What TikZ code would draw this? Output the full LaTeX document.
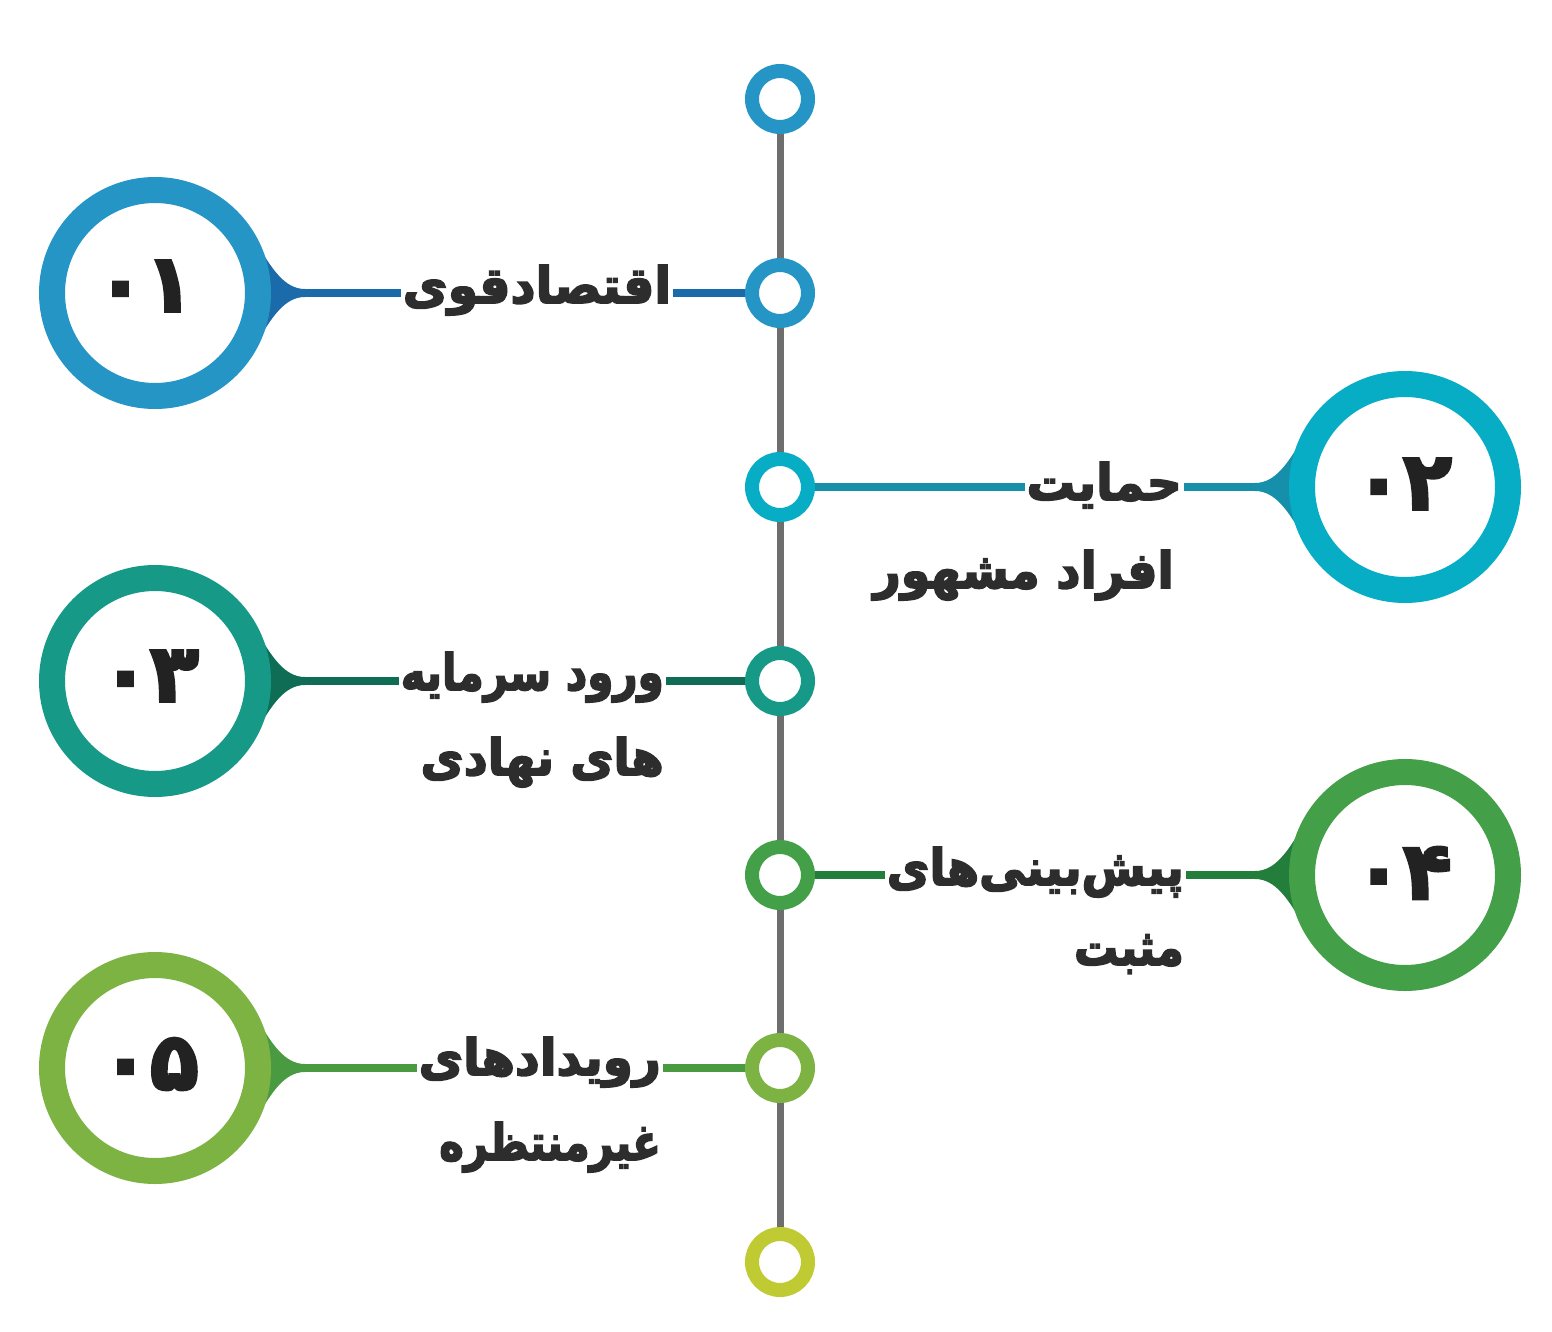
\documentclass[tikz,border=0pt]{standalone}
\usepackage{fontspec}
\usetikzlibrary{backgrounds,calc}
\TeXXeTstate=1
\newfontfamily\fa[Script=Arabic, BoldFeatures={FakeBold=3.5}]{DejaVu Sans}
\definecolor{cA}{HTML}{2595C5}
\definecolor{cAl}{HTML}{1B6AAA}
\definecolor{cB}{HTML}{07ADC4}
\definecolor{cBl}{HTML}{168FAB}
\definecolor{cC}{HTML}{169A87}
\definecolor{cCl}{HTML}{0F6C55}
\definecolor{cD}{HTML}{43A048}
\definecolor{cDl}{HTML}{237D3B}
\definecolor{cE}{HTML}{7DB343}
\definecolor{cEl}{HTML}{4A9A41}
\definecolor{cF}{HTML}{C0CA33}
\definecolor{spine}{HTML}{6E6E6E}
\definecolor{txt}{HTML}{2D2D2D}
\definecolor{dig}{HTML}{222222}
\newcommand\myfunnel[3]{%
  \fill[#3, shift={(#1.center)}, xscale=#2]
    (100,-53) .. controls (117,-23) and (130,-4) .. (150,-4)
    -- (150,4) .. controls (130,4) and (117,23) .. (100,53) -- cycle;}
\tikzset{
  smallring/.style={circle, draw=#1, fill=white, line width=14pt, minimum size=56pt, inner sep=0pt},
  bigring/.style={circle, draw=#1, fill=white, line width=26pt, minimum size=206pt, inner sep=0pt},
  digits/.style={font=\fa\bfseries\fontsize{80}{90}\selectfont, text=dig, inner sep=0pt},
  lbl/.style={font=\fa\bfseries\fontsize{50}{60}\selectfont, text=txt, inner sep=2pt},
  lblbg/.style={lbl, fill=white},
  conn/.style={line width=8pt, draw=#1},
}
\begin{document}
\begin{tikzpicture}[x=1pt,y=-1pt]
\useasboundingbox (0,0) rectangle (1552,1332);
% small rings on spine
\node[smallring=cA] (s0) at (780,99) {};
\node[smallring=cA] (s1) at (780,293) {};
\node[smallring=cB] (s2) at (780,487) {};
\node[smallring=cC] (s3) at (780,681) {};
\node[smallring=cD] (s4) at (780,875) {};
\node[smallring=cE] (s5) at (780,1068) {};
\node[smallring=cF] (s6) at (780,1262) {};
% big rings
\node[bigring=cA] (b1) at (155,293) {};
\node[bigring=cB] (b2) at (1405,487) {};
\node[bigring=cC] (b3) at (155,681) {};
\node[bigring=cD] (b4) at (1405,875) {};
\node[bigring=cE] (b5) at (155,1068) {};
\node[digits] (d1) at (145,286) {\beginR ۰۱\endR};
\node[digits] (d2) at (1403,484) {\beginR ۰۲\endR};
\node[digits] (d3) at (150,676) {\beginR ۰۳\endR};
\node[digits] (d4) at (1403,873) {\beginR ۰۴\endR};
\node[digits] (d5) at (150,1064) {\beginR ۰۵\endR};
\begin{pgfonlayer}{background}
  \draw[spine, line width=7pt] (s0) -- (s6);
  \draw[conn=cAl] (s1) -- (b1);
  \draw[conn=cBl] (s2) -- (b2);
  \draw[conn=cCl] (s3) -- (b3);
  \draw[conn=cDl] (s4) -- (b4);
  \draw[conn=cEl] (s5) -- (b5);
  \myfunnel{b1}{1}{cAl}
  \myfunnel{b2}{-1}{cBl}
  \myfunnel{b3}{1}{cCl}
  \myfunnel{b4}{-1}{cDl}
  \myfunnel{b5}{1}{cEl}
\end{pgfonlayer}
% labels
\node[lblbg, anchor=base] (t1) at (537,303) {\scalebox{0.98}[1]{\beginR اقتصادقوی\endR}};
\node[lblbg, anchor=base east] (t2a) at (1184,500) {\scalebox{0.97}[1]{\beginR حمایت\endR}};
\node[lbl, anchor=base east] (t2b) at (1176,588) {\scalebox{0.95}[1]{\beginR افراد مشهور\endR}};
\node[lblbg, anchor=base east] (t3a) at (666,690) {\scalebox{0.84}[1]{\beginR ورود سرمایه\endR}};
\node[lbl, anchor=base east] (t3b) at (666,775) {\scalebox{0.94}[1]{\beginR های نهادی\endR}};
\node[lblbg, anchor=base east] (t4a) at (1186,885) {\scalebox{0.93}[1]{\beginR پیش‌بینی‌های\endR}};
\node[lbl, anchor=base east] (t4b) at (1186,965) {\scalebox{0.88}[1]{\beginR مثبت\endR}};
\node[lblbg, anchor=base east] (t5a) at (663,1075) {\scalebox{0.97}[1]{\beginR رویدادهای\endR}};
\node[lbl, anchor=base east] (t5b) at (663,1160) {\scalebox{0.83}[1]{\beginR غیرمنتظره\endR}};
\end{tikzpicture}
\end{document}
